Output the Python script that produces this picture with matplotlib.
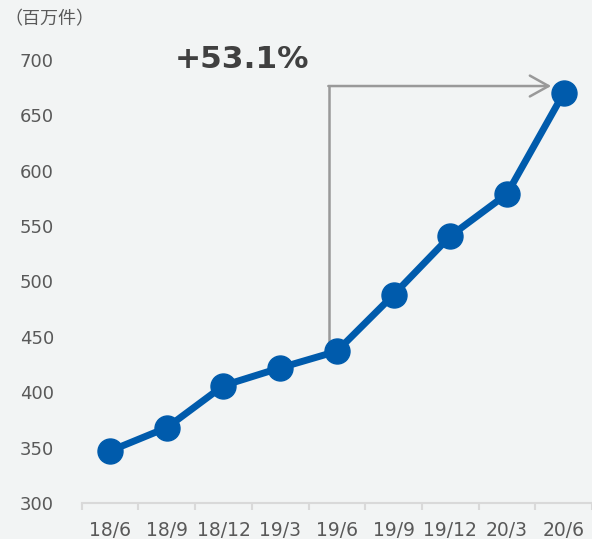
import matplotlib
matplotlib.use("Agg")
import matplotlib.pyplot as plt
import numpy as np

categories = ["18/6", "18/9", "18/12", "19/3", "19/6", "19/9", "19/12", "20/3", "20/6"]
values = [347, 368, 406, 422, 437, 488, 541, 579, 670]
yticks = [300, 350, 400, 450, 500, 550, 600, 650, 700]
unit_label = "（百万件）"
growth_label = "+53.1%"

W, H = 592, 539
bg = "#F2F4F4"
fig = plt.figure(figsize=(W / 100, H / 100), dpi=100, facecolor=bg)

left_px, right_px = 81.7, 592
bottom_px, top_px = 503, 60
ax = fig.add_axes([left_px / W, (H - bottom_px) / H,
                   (right_px - left_px) / W, (bottom_px - top_px) / H])
ax.set_facecolor(bg)

x = np.arange(len(categories))
spacing = 57.1
ax.set_xlim(-0.5, -0.5 + (right_px - left_px) / spacing)
ax.set_ylim(300, 700)

ax.plot(x, values, color="#005BAC", lw=5, marker="o", markersize=18,
        solid_capstyle="round", zorder=3)

# annotation bracket
y_top = 676.5
x_v = 3.86
x_end = 7.78
ax.plot([x_v, x_v], [values[4], y_top], color="#999999", lw=1.8, zorder=2,
        solid_capstyle="butt")
ax.annotate("", xy=(x_end, y_top), xytext=(x_v - 0.01, y_top),
            arrowprops=dict(arrowstyle="->,head_length=0.9,head_width=0.5",
                            color="#999999", lw=1.8, mutation_scale=15,
                            shrinkA=0, shrinkB=0), zorder=2)
ax.text(2.33, 700, growth_label, ha="center", va="center", fontsize=22.5,
        fontweight="bold", color="#404040", family="DejaVu Sans")

# spines
for s in ["top", "right", "left"]:
    ax.spines[s].set_visible(False)
ax.spines["bottom"].set_color("#D9D9D9")
ax.spines["bottom"].set_linewidth(1.5)

ax.set_yticks(yticks)
ax.set_yticklabels([str(v) for v in yticks])
ax.tick_params(axis="y", length=0, pad=20, labelsize=13, labelcolor="#595959")

ax.set_xticks(x)
ax.set_xticklabels(categories)
ax.set_xticks(np.arange(-0.5, len(categories), 1.0), minor=True)
ax.tick_params(axis="x", which="major", length=0, pad=13, labelsize=13.5,
               labelcolor="#595959")
ax.tick_params(axis="x", which="minor", length=5, width=1.5, color="#D9D9D9")

fig.text(4 / W, 1 - 19 / H, unit_label, ha="left", va="center", fontsize=13,
         color="#595959", family=["Noto Sans CJK JP", "DejaVu Sans"])

fig.savefig("out.png", dpi=100, facecolor=bg)
